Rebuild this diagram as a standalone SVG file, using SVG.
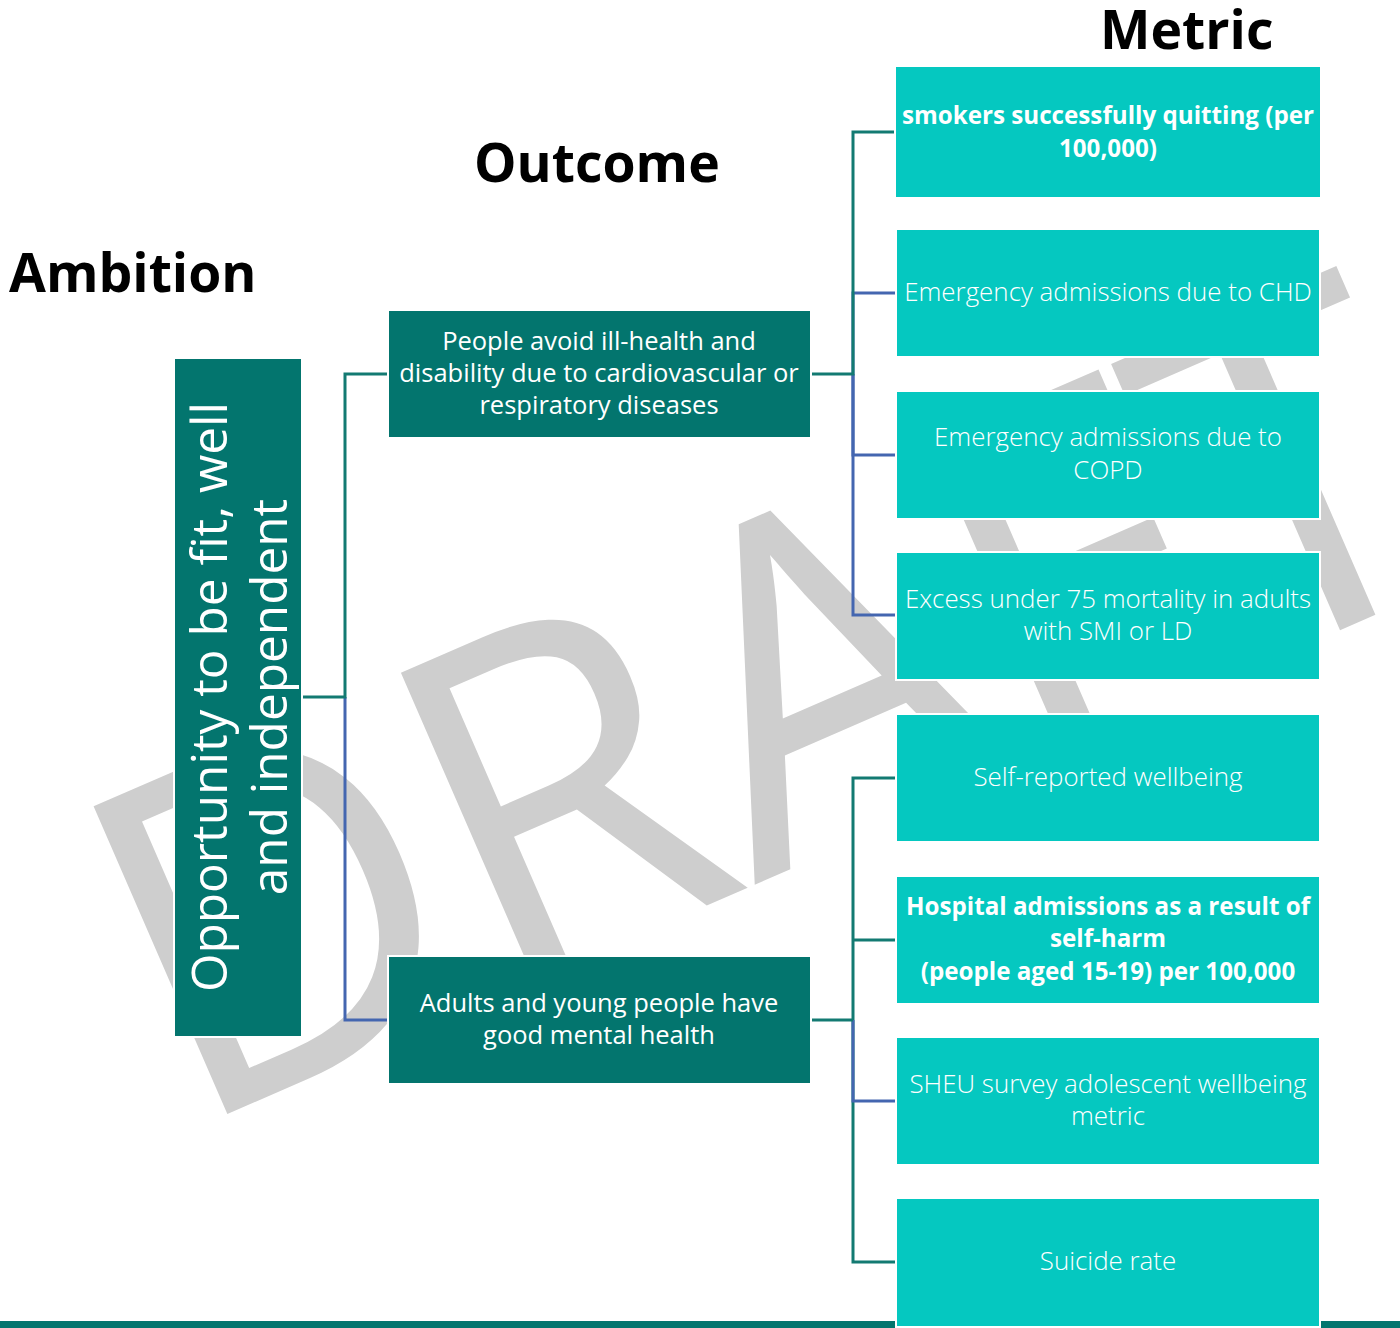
<svg xmlns="http://www.w3.org/2000/svg" width="1400" height="1328" viewBox="0 0 1400 1328">
<style>
.hdr{font-family:"Open Sans","Liberation Sans",sans-serif;font-weight:700;font-size:53.5px;fill:#000}
.dark{fill:#03756E;stroke:#fff;stroke-width:2}
.cyan{fill:#05C8C0;stroke:#fff;stroke-width:2}
.t{font-family:"Open Sans","Liberation Sans",sans-serif;fill:#fff;text-anchor:middle}
.out{font-size:25.5px}
.met{font-size:25.9px;font-weight:300}
.metb{font-size:24.2px;font-weight:700}
.amb{font-size:49.5px}
.cT{fill:none;stroke:#137A72;stroke-width:3}
.cB{fill:none;stroke:#4466B0;stroke-width:3}
.wm{font-family:"Open Sans","Liberation Sans",sans-serif;font-size:470px;fill:#CECECE}
</style>
<rect width="1400" height="1328" fill="#fff"/>
<g id="watermark">
<text class="wm" transform="translate(186,1132) rotate(-23.5)" textLength="1405" lengthAdjust="spacingAndGlyphs">DRAFT</text>
</g>
<rect id="bottom-band" x="0" y="1321" width="1400" height="7" fill="#03756E"/>
<g id="headers">
<text class="hdr" x="1100" y="49">Metric</text>
<text class="hdr" x="474" y="182">Outcome</text>
<text class="hdr" x="9" y="292">Ambition</text>
</g>
<g id="connectors">
<path class="cB" d="M345,697 V1020 H387"/>
<path class="cT" d="M303,697 H345 V374 H387"/>
<path class="cB" d="M853,374 V293 H895"/>
<path class="cB" d="M853,374 V455 H895"/>
<path class="cB" d="M853,374 V615 H895"/>
<path class="cT" d="M811,374 H853 V132 H895"/>
<path class="cT" d="M853,1020 V1262 H895"/>
<path class="cT" d="M853,1020 V778 H895"/>
<path class="cT" d="M853,940 H895"/>
<path class="cB" d="M853,1020 V1101 H895"/>
<path class="cT" d="M811,1020 H853"/>
</g>
<g id="ambition">
<rect class="dark" x="174" y="358" width="128" height="679"/>
<text class="t amb" transform="translate(227,697) rotate(-90)">Opportunity to be fit, well</text>
<text class="t amb" transform="translate(287,697) rotate(-90)">and independent</text>
</g>
<g id="outcome1">
<rect class="dark" x="388" y="310" width="423" height="128"/>
<text class="t out" x="599" y="350">People avoid ill-health and</text>
<text class="t out" x="599" y="382">disability due to cardiovascular or</text>
<text class="t out" x="599" y="414">respiratory diseases</text>
</g>
<g id="outcome2">
<rect class="dark" x="388" y="956" width="423" height="128"/>
<text class="t out" x="599" y="1012">Adults and young people have</text>
<text class="t out" x="599" y="1044">good mental health</text>
</g>
<g id="metric1">
<rect class="cyan" x="895" y="66" width="426" height="132"/>
<text class="t metb" x="1108" y="124">smokers successfully quitting (per</text>
<text class="t metb" x="1108" y="157">100,000)</text>
</g>
<g id="metric2">
<rect class="cyan" x="896" y="229" width="424" height="128"/>
<text class="t met" x="1108" y="301">Emergency admissions due to CHD</text>
</g>
<g id="metric3">
<rect class="cyan" x="896" y="391" width="424" height="128"/>
<text class="t met" x="1108" y="446">Emergency admissions due to</text>
<text class="t met" x="1108" y="479">COPD</text>
</g>
<g id="metric4">
<rect class="cyan" x="896" y="552" width="424" height="128"/>
<text class="t met" x="1108" y="608">Excess under 75 mortality in adults</text>
<text class="t met" x="1108" y="640">with SMI or LD</text>
</g>
<g id="metric5">
<rect class="cyan" x="896" y="714" width="424" height="128"/>
<text class="t met" x="1108" y="786">Self-reported wellbeing</text>
</g>
<g id="metric6">
<rect class="cyan" x="896" y="876" width="424" height="128"/>
<text class="t metb" x="1108" y="915">Hospital admissions as a result of</text>
<text class="t metb" x="1108" y="947">self-harm</text>
<text class="t metb" x="1108" y="980">(people aged 15-19) per 100,000</text>
</g>
<g id="metric7">
<rect class="cyan" x="896" y="1037" width="424" height="128"/>
<text class="t met" x="1108" y="1093">SHEU survey adolescent wellbeing</text>
<text class="t met" x="1108" y="1125">metric</text>
</g>
<g id="metric8">
<rect class="cyan" x="896" y="1198" width="424" height="129"/>
<text class="t met" x="1108" y="1270">Suicide rate</text>
</g>
</svg>
